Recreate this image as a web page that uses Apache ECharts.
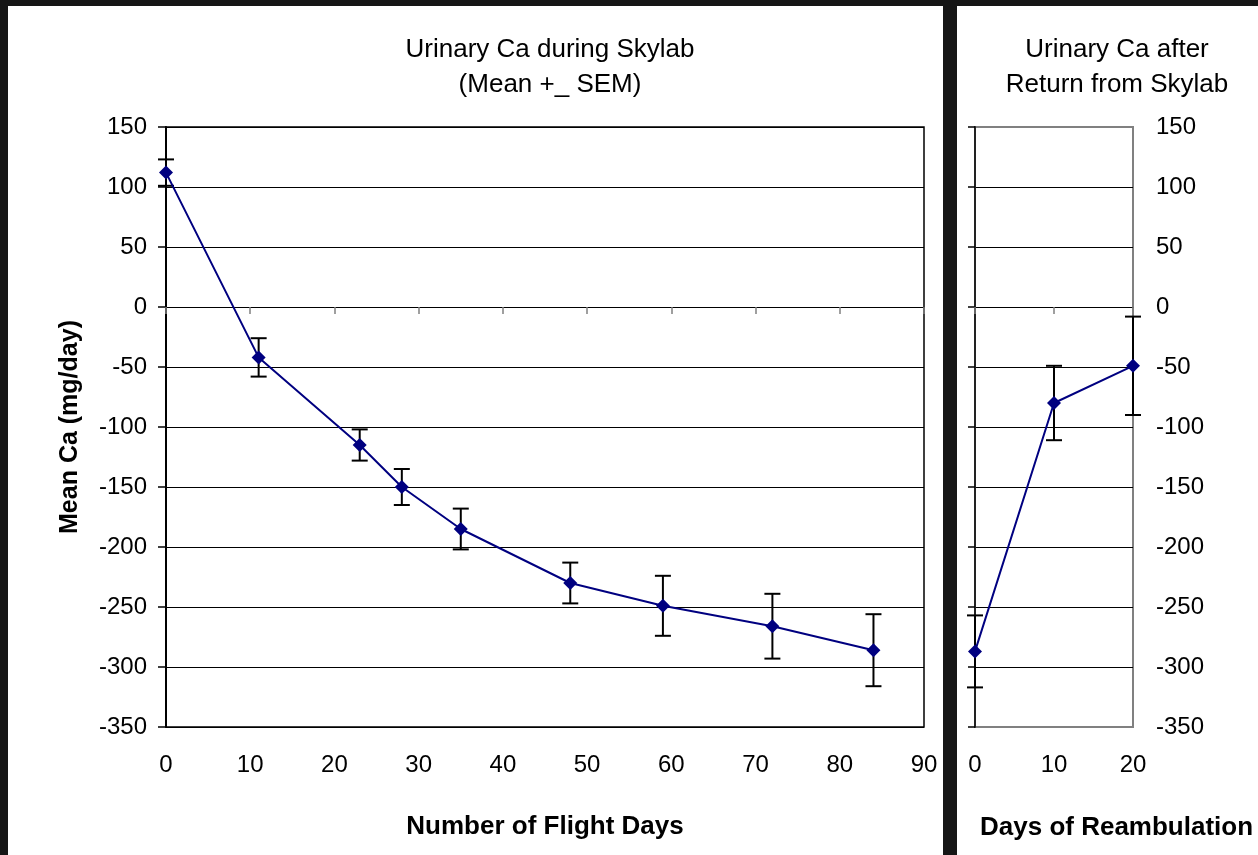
<!DOCTYPE html>
<html lang="en">
<head>
    <meta charset="UTF-8">
    <title>Urinary Ca - Skylab</title>
    <script type="text/javascript" src="https://cdn.jsdelivr.net/npm/echarts@6/dist/echarts.min.js"></script>
    <style>
        html, body { margin: 0; padding: 0; background: #161616; }
        .panel { position: absolute; background: #fff; }
        #left { left: 8px; top: 6px; width: 935px; height: 849px; }
        #right { left: 957px; top: 6px; width: 301px; height: 849px; }
        #chart { position: absolute; left: 0; top: 0; width: 1258px; height: 855px; }
    </style>
</head>
<body>
    <div class="panel" id="left"></div>
    <div class="panel" id="right"></div>
    <div id="chart"></div>
<script>
    // during flight
    var flightDays = [0, 11, 23, 28, 35, 48, 59, 72, 84];
    var flightMean = [112, -42, -115, -150, -185, -230, -249, -266, -286];
    var flightSem = [11, 16, 13, 15, 17, 17, 25, 27, 30];
    // after return
    var reambDays = [0, 10, 20];
    var reambMean = [-287, -80, -49];
    var reambSem = [30, 31, 41];

    var font = 'Liberation Sans, Arial, sans-serif';
    var navy = '#000080';

    function pts(xs, ys) {
        var out = [];
        for (var i = 0; i < xs.length; i++) out.push([xs[i], ys[i]]);
        return out;
    }
    function errs(xs, ys, es) {
        var out = [];
        for (var i = 0; i < xs.length; i++) out.push([xs[i], ys[i] - es[i], ys[i] + es[i]]);
        return out;
    }
    function errorBar(params, api) {
        var lo = api.coord([api.value(0), api.value(1)]);
        var hi = api.coord([api.value(0), api.value(2)]);
        var w = 8;
        var st = { stroke: '#000', lineWidth: 2 };
        return {
            type: 'group',
            children: [
                { type: 'line', shape: { x1: hi[0], y1: hi[1], x2: lo[0], y2: lo[1] }, style: st },
                { type: 'line', shape: { x1: hi[0] - w, y1: hi[1], x2: hi[0] + w, y2: hi[1] }, style: st },
                { type: 'line', shape: { x1: lo[0] - w, y1: lo[1], x2: lo[0] + w, y2: lo[1] }, style: st }
            ]
        };
    }

    var yRange = { type: 'value', min: -350, max: 150, interval: 50 };
    var tickLabel = { fontSize: 24, color: '#000', fontFamily: font };
    var axisName = { fontSize: 26, fontWeight: 'bold', color: '#000', fontFamily: font };
    var titleText = { fontSize: 26, fontWeight: 'normal', lineHeight: 35, color: '#000', fontFamily: font };

    var chart = echarts.init(document.getElementById('chart'));
    chart.setOption({
        animation: false,
        textStyle: { fontFamily: font },
        title: [
            { text: 'Urinary Ca during Skylab\n(Mean +_ SEM)', left: 545, top: 27, textAlign: 'center', textStyle: titleText },
            { text: 'Urinary Ca after\nReturn from Skylab', left: 1112, top: 27, textAlign: 'center', textStyle: titleText },
            { text: 'Days of Reambulation', left: 975, top: 810, textStyle: axisName }
        ],
        grid: [
            { left: 166, top: 127, width: 758, height: 600, show: true, borderColor: '#000', borderWidth: 1.5 },
            { left: 975, top: 127, width: 158, height: 600, show: true, borderColor: '#808080', borderWidth: 2 }
        ],
        xAxis: [
            { gridIndex: 0, type: 'value', min: 0, max: 90, interval: 10,
              axisLine: { onZero: true, lineStyle: { color: '#000', width: 1 } },
              axisTick: { show: true, length: 7, lineStyle: { color: '#808080', width: 1.5 } },
              axisLabel: { show: false }, splitLine: { show: false } },
            { gridIndex: 0, type: 'value', min: 0, max: 90, interval: 10, position: 'bottom',
              axisLine: { show: false, onZero: false }, axisTick: { show: false },
              axisLabel: Object.assign({ margin: 26 }, tickLabel), splitLine: { show: false },
              name: 'Number of Flight Days', nameLocation: 'middle', nameGap: 87, nameTextStyle: axisName },
            { gridIndex: 1, type: 'value', min: 0, max: 20, interval: 10,
              axisLine: { onZero: true, lineStyle: { color: '#000', width: 1 } },
              axisTick: { show: true, length: 7, lineStyle: { color: '#808080', width: 1.5 } },
              axisLabel: { show: false }, splitLine: { show: false } },
            { gridIndex: 1, type: 'value', min: 0, max: 20, interval: 10, position: 'bottom',
              axisLine: { show: false, onZero: false }, axisTick: { show: false },
              axisLabel: Object.assign({ margin: 26 }, tickLabel), splitLine: { show: false } }
        ],
        yAxis: [
            Object.assign({ gridIndex: 0,
              axisLine: { show: true, onZero: false, lineStyle: { color: '#000', width: 2 } },
              axisTick: { show: true, length: 8, lineStyle: { color: '#000', width: 1.5 } },
              axisLabel: Object.assign({ margin: 19 }, tickLabel),
              splitLine: { show: true, lineStyle: { color: '#000', width: 1 } },
              name: 'Mean Ca (mg/day)', nameLocation: 'middle', nameRotate: 90, nameGap: 83,
              nameTextStyle: Object.assign({}, axisName, { fontSize: 25 })
            }, yRange),
            Object.assign({ gridIndex: 1, position: 'left',
              axisLine: { show: true, onZero: false, lineStyle: { color: '#222', width: 2 } },
              axisTick: { show: true, length: 7, lineStyle: { color: '#000', width: 1.5 } },
              axisLabel: { show: false },
              splitLine: { show: true, showMinLine: false, showMaxLine: false, lineStyle: { color: '#000', width: 1 } }
            }, yRange),
            Object.assign({ gridIndex: 1, position: 'right',
              axisLine: { show: false, onZero: false }, axisTick: { show: false },
              axisLabel: Object.assign({ margin: 23, align: 'left' }, tickLabel),
              splitLine: { show: false }
            }, yRange)
        ],
        series: [
            { type: 'custom', xAxisIndex: 0, yAxisIndex: 0, z: 2, renderItem: errorBar,
              data: errs(flightDays, flightMean, flightSem) },
            { type: 'line', xAxisIndex: 0, yAxisIndex: 0, z: 3, data: pts(flightDays, flightMean),
              symbol: 'diamond', symbolSize: 14, itemStyle: { color: navy },
              lineStyle: { color: navy, width: 2 } },
            { type: 'custom', xAxisIndex: 2, yAxisIndex: 1, z: 2, renderItem: errorBar, clip: false,
              data: errs(reambDays, reambMean, reambSem) },
            { type: 'line', xAxisIndex: 2, yAxisIndex: 1, z: 3, data: pts(reambDays, reambMean),
              symbol: 'diamond', symbolSize: 14, itemStyle: { color: navy },
              lineStyle: { color: navy, width: 2 } }
        ]
    });
</script>
</body>
</html>
